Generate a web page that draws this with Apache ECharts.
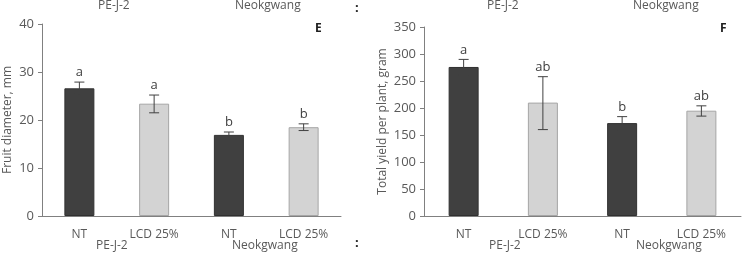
<!DOCTYPE html>
<html><head><meta charset="utf-8">
<script src="https://cdn.jsdelivr.net/npm/echarts@6/dist/echarts.min.js"></script>
<style>html,body{margin:0;padding:0;background:#fff}#c{width:742px;height:258px}</style>
</head><body><div id="c"></div>
<script>
const categories = ['NT', 'LCD 25%', 'NT', 'LCD 25%'];
const groups = ['PE-J-2', 'Neokgwang'];
const diamValues = [26.6, 23.4, 16.9, 18.5];
const diamErrLow = [25.4, 21.5, 16.3, 17.8];
const diamErrHigh = [27.9, 25.2, 17.5, 19.2];
const diamLetters = ['a', 'a', 'b', 'b'];
const yieldValues = [276, 210, 172, 195];
const yieldErrLow = [262, 160, 160, 185];
const yieldErrHigh = [290, 258, 184, 204];
const yieldLetters = ['a', 'ab', 'b', 'ab'];
const diamTicks = [0, 10, 20, 30, 40];
const yieldTicks = [0, 50, 100, 150, 200, 250, 300, 350];

const FONT = 'Open Sans';
const TXT = '#595959';
const chart = echarts.init(document.getElementById('c'));

function errSeries(xi, yi, low, high, letters) {
  return {
    type: 'custom', xAxisIndex: xi, yAxisIndex: yi, z: 5,
    data: low.map((l, i) => [i, l, high[i], letters[i]]),
    renderItem: function (params, api) {
      const lo = api.coord([api.value(0), api.value(1)]);
      const hi = api.coord([api.value(0), api.value(2)]);
      const x = lo[0], w = 5;
      const st = {stroke: '#404040', lineWidth: 1};
      return {type: 'group', children: [
        {type: 'line', shape: {x1: x, y1: lo[1], x2: x, y2: hi[1]}, style: st},
        {type: 'line', shape: {x1: x - w, y1: hi[1], x2: x + w, y2: hi[1]}, style: st},
        {type: 'line', shape: {x1: x - w, y1: lo[1], x2: x + w, y2: lo[1]}, style: st},
        {type: 'text', style: {text: api.value(3), x: x, y: hi[1] - 3, textAlign: 'center', textVerticalAlign: 'bottom', fill: '#404040', font: '13px "Open Sans"'}}
      ]};
    }
  };
}
function barSeries(xi, yi, vals) {
  return {
    type: 'bar', xAxisIndex: xi, yAxisIndex: yi, barWidth: 30,
    data: vals.map((v, i) => ({value: v, itemStyle: i % 2 === 0
      ? {color: '#404040', borderColor: '#303030', borderWidth: 1}
      : {color: '#d3d3d3', borderColor: '#a6a6a6', borderWidth: 1}}))
  };
}
function xAxis(gi) {
  return {
    type: 'category', gridIndex: gi, data: categories,
    axisLine: {lineStyle: {color: '#808080'}},
    axisTick: {alignWithLabel: true, interval: (i) => i % 2 === 1, length: 4, lineStyle: {color: '#808080'}},
    axisLabel: {color: TXT, fontFamily: FONT, fontSize: 12, margin: 13}
  };
}
function yAxis(gi, ticks, name) {
  return {
    type: 'value', gridIndex: gi, min: ticks[0], max: ticks[ticks.length - 1], interval: ticks[1] - ticks[0],
    splitLine: {show: false},
    axisLine: {show: true, lineStyle: {color: '#808080'}},
    axisTick: {show: true, length: 4, lineStyle: {color: '#808080'}},
    axisLabel: {color: TXT, fontFamily: FONT, fontSize: 13, margin: 8},
    name: name, nameLocation: 'middle', nameRotate: 90,
    nameTextStyle: {color: TXT, fontFamily: FONT, fontSize: 12}
  };
}

chart.setOption({
  animation: false,
  grid: [
    {left: 42, right: 401, top: 24, bottom: 42},
    {left: 424, right: 1, top: 27, bottom: 42}
  ],
  xAxis: [xAxis(0), xAxis(1)],
  yAxis: [
    Object.assign(yAxis(0, diamTicks, 'Fruit diameter, mm'), {nameGap: 28}),
    Object.assign(yAxis(1, yieldTicks, 'Total yield per plant, gram'), {nameGap: 35})
  ],
  series: [
    barSeries(0, 0, diamValues), errSeries(0, 0, diamErrLow, diamErrHigh, diamLetters),
    barSeries(1, 1, yieldValues), errSeries(1, 1, yieldErrLow, yieldErrHigh, yieldLetters)
  ],
  graphic: [
    {type: 'text', left: 98, top: 0, style: {text: groups[0], fill: TXT, font: '12px "Open Sans"'}},
    {type: 'text', left: 235, top: 0, style: {text: groups[1], fill: TXT, font: '12px "Open Sans"'}},
    {type: 'text', left: 96, top: 240, style: {text: groups[0], fill: TXT, font: '12px "Open Sans"'}},
    {type: 'text', left: 232, top: 240, style: {text: groups[1], fill: TXT, font: '12px "Open Sans"'}},
    {type: 'text', left: 487, top: 0, style: {text: groups[0], fill: TXT, font: '12px "Open Sans"'}},
    {type: 'text', left: 633, top: 0, style: {text: groups[1], fill: TXT, font: '12px "Open Sans"'}},
    {type: 'text', left: 489, top: 240, style: {text: groups[0], fill: TXT, font: '12px "Open Sans"'}},
    {type: 'text', left: 636, top: 240, style: {text: groups[1], fill: TXT, font: '12px "Open Sans"'}},
    {type: 'text', left: 355, top: 2, style: {text: ':', fill: '#202020', font: 'bold 13px "Open Sans"'}},
    {type: 'text', left: 355, top: 237, style: {text: ':', fill: '#202020', font: 'bold 13px "Open Sans"'}},
    {type: 'text', left: 315, top: 23, style: {text: 'E', fill: '#202020', font: 'bold 12px "Open Sans"'}},
    {type: 'text', left: 720, top: 23, style: {text: 'F', fill: '#202020', font: 'bold 12px "Open Sans"'}}
  ]
});
</script></body></html>
